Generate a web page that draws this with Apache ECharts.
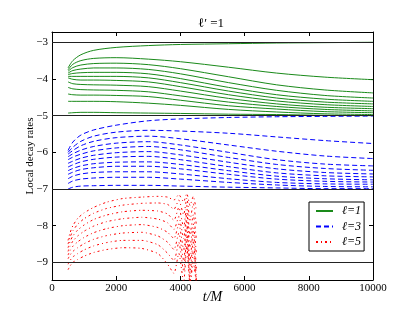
<!DOCTYPE html>
<html>
<head>
<meta charset="utf-8">
<script src="https://cdn.jsdelivr.net/npm/echarts@6/dist/echarts.min.js"></script>
<style>html,body{margin:0;padding:0;background:#fff;}#c{width:415px;height:312px;}</style>
</head>
<body>
<div id="c"></div>
<script>
// ---- data ----
const xTicks = [0, 2000, 4000, 6000, 8000, 10000];
const yTicks = [-9, -8, -7, -6, -5, -4, -3];
const refLines = [-3, -5, -7, -9];
const legendNames = ['ℓ=1', 'ℓ=3', 'ℓ=5'];

// ℓ=1 (solid green)
const tEll1 = [500, 650, 900, 1300, 2000, 3000, 4000, 5500, 7000, 8500, 10000];
const ell1Rates = [
  [-3.70, -3.50, -3.34, -3.22, -3.14, -3.09, -3.06, -3.04, -3.02, -3.01, -3.00],
  [-3.75, -3.60, -3.50, -3.44, -3.42, -3.46, -3.53, -3.68, -3.84, -3.95, -4.02],
  [-3.79, -3.69, -3.62, -3.58, -3.57, -3.61, -3.72, -3.94, -4.16, -4.30, -4.38],
  [-3.84, -3.77, -3.73, -3.70, -3.70, -3.74, -3.86, -4.10, -4.31, -4.45, -4.52],
  [-3.88, -3.85, -3.83, -3.82, -3.82, -3.86, -3.99, -4.23, -4.43, -4.55, -4.61],
  [-3.93, -3.93, -3.93, -3.93, -3.93, -3.97, -4.10, -4.33, -4.52, -4.63, -4.68],
  [-3.97, -4.01, -4.03, -4.03, -4.04, -4.08, -4.21, -4.43, -4.60, -4.70, -4.75],
  [-4.08, -4.13, -4.15, -4.16, -4.17, -4.21, -4.33, -4.53, -4.68, -4.77, -4.81],
  [-4.23, -4.27, -4.29, -4.30, -4.31, -4.35, -4.46, -4.63, -4.75, -4.83, -4.87],
  [-4.41, -4.43, -4.44, -4.44, -4.45, -4.48, -4.58, -4.73, -4.82, -4.89, -4.92],
  [-4.61, -4.61, -4.61, -4.61, -4.62, -4.66, -4.72, -4.83, -4.90, -4.95, -4.97],
  [-4.93, -4.92, -4.91, -4.91, -4.92, -4.93, -4.94, -4.96, -4.97, -4.99, -5.00]
];

// ℓ=3 (dashed blue)
const tEll3 = [500, 650, 900, 1300, 2000, 3000, 4000, 5500, 7000, 8500, 10000];
const ell3Rates = [
  [-5.95, -5.72, -5.53, -5.39, -5.26, -5.14, -5.09, -5.05, -5.03, -5.02, -5.01],
  [-6.00, -5.86, -5.70, -5.56, -5.45, -5.40, -5.42, -5.48, -5.58, -5.68, -5.76],
  [-6.05, -5.95, -5.82, -5.70, -5.60, -5.56, -5.63, -5.80, -5.97, -6.10, -6.17],
  [-6.12, -6.04, -5.94, -5.84, -5.75, -5.71, -5.80, -6.00, -6.20, -6.32, -6.37],
  [-6.20, -6.13, -6.05, -5.96, -5.88, -5.84, -5.93, -6.14, -6.33, -6.44, -6.49],
  [-6.30, -6.24, -6.16, -6.08, -6.01, -5.98, -6.07, -6.27, -6.45, -6.55, -6.59],
  [-6.40, -6.34, -6.26, -6.19, -6.13, -6.11, -6.20, -6.39, -6.56, -6.64, -6.67],
  [-6.50, -6.44, -6.37, -6.31, -6.27, -6.26, -6.33, -6.50, -6.65, -6.72, -6.75],
  [-6.60, -6.54, -6.47, -6.42, -6.38, -6.38, -6.45, -6.60, -6.73, -6.79, -6.81],
  [-6.72, -6.65, -6.59, -6.55, -6.53, -6.53, -6.59, -6.72, -6.82, -6.86, -6.87],
  [-6.85, -6.78, -6.73, -6.70, -6.68, -6.68, -6.73, -6.82, -6.89, -6.93, -6.94],
  [-7.00, -6.95, -6.92, -6.91, -6.90, -6.90, -6.92, -6.95, -6.97, -6.99, -6.99]
];

// ℓ=5 (dash-dot red)
const tEll5 = [500, 560, 650, 800, 1000, 1300, 1700, 2200, 2800, 3300, 3600, 3800, 3950, 4100, 4200, 4300, 4400, 4500];
const ell5Rates = [
  [-8.40, -8.20, -8.00, -7.80, -7.65, -7.50, -7.36, -7.26, -7.22, -7.20, -7.22, -7.30, -7.15, -7.35, -7.12, -7.45, -7.20, -7.60],
  [-8.50, -8.32, -8.14, -7.96, -7.81, -7.66, -7.53, -7.44, -7.39, -7.38, -7.42, -7.55, -7.30, -7.70, -7.25, -7.85, -7.40, -8.00],
  [-8.60, -8.44, -8.28, -8.12, -7.98, -7.83, -7.71, -7.62, -7.58, -7.60, -7.68, -7.85, -7.50, -8.05, -7.45, -8.25, -7.70, -8.40],
  [-8.70, -8.56, -8.42, -8.28, -8.15, -8.01, -7.89, -7.81, -7.77, -7.82, -7.92, -8.10, -7.75, -8.35, -7.65, -8.60, -7.95, -8.80],
  [-8.80, -8.68, -8.56, -8.44, -8.32, -8.19, -8.08, -8.00, -7.97, -8.05, -8.18, -8.35, -7.95, -8.65, -7.85, -8.95, -8.15, -9.20],
  [-8.90, -8.80, -8.70, -8.60, -8.49, -8.37, -8.27, -8.20, -8.18, -8.28, -8.45, -8.65, -8.20, -8.95, -8.05, -9.30, -8.40, -9.50],
  [-9.05, -8.95, -8.85, -8.76, -8.66, -8.55, -8.46, -8.40, -8.40, -8.52, -8.75, -8.95, -8.45, -9.25, -8.30, -9.55, -8.70, -9.55],
  [-9.20, -9.10, -9.00, -8.92, -8.83, -8.73, -8.65, -8.60, -8.62, -8.76, -9.05, -9.30, -8.75, -9.55, -8.55, -9.60, -9.00, -9.60]
];

// ---- chart ----
const FONT = '"Liberation Serif", "DejaVu Serif", serif';
const chart = echarts.init(document.getElementById('c'), null, {renderer: 'canvas'});

function pairs(t, v) { return t.map((x, i) => [x, v[i]]); }

const series = [];
ell1Rates.forEach(v => series.push({
  name: legendNames[0], type: 'line', data: pairs(tEll1, v), symbol: 'none', smooth: 0.3,
  lineStyle: {color: '#1a8a1a', width: 1, type: 'solid'}, itemStyle: {color: '#1a8a1a'}, silent: true, z: 3
}));
ell3Rates.forEach(v => series.push({
  name: legendNames[1], type: 'line', data: pairs(tEll3, v), symbol: 'none', smooth: 0.3,
  lineStyle: {color: '#0000ff', width: 1, type: [5, 3]}, itemStyle: {color: '#0000ff'}, silent: true, z: 3
}));
ell5Rates.forEach(v => series.push({
  name: legendNames[2], type: 'line', data: pairs(tEll5, v), symbol: 'none', smooth: 0.2,
  lineStyle: {color: '#ff0000', width: 1, type: [2, 3, 1, 3]}, itemStyle: {color: '#ff0000'}, silent: true, z: 3
}));
// reference horizontal lines
series.push({
  name: 'ref', type: 'line', data: [], silent: true,
  markLine: {
    silent: true, symbol: 'none', label: {show: false}, animation: false,
    lineStyle: {color: '#222', width: 1, type: 'solid'},
    data: refLines.map(y => ({yAxis: y}))
  }
});

const tickStyle = {show: true, inside: true, length: 4, lineStyle: {color: '#000', width: 1}};
const lineStyle = {show: true, onZero: false, lineStyle: {color: '#000', width: 1}};

chart.setOption({
  animation: false,
  backgroundColor: '#fff',
  grid: {left: 52, right: 42, top: 32, bottom: 32, containLabel: false},
  graphic: [{
    type: 'text', x: 211, y: 24,
    style: {text: 'ℓ′ =1', font: '13px ' + FONT, fill: '#000', textAlign: 'center', textVerticalAlign: 'middle'}
  }],
  legend: {
    data: legendNames, orient: 'vertical', left: 309, top: 202,
    backgroundColor: '#fff', borderColor: '#000', borderWidth: 1, borderRadius: 0,
    padding: [3, 3, 3, 6], itemWidth: 17, itemHeight: 12, itemGap: 3.5,
    itemStyle: {opacity: 0},
    textStyle: {fontFamily: FONT, fontStyle: 'italic', fontSize: 12, color: '#000', padding: [0, 0, 0, 4]}
  },
  xAxis: [{
    type: 'value', min: 0, max: 10000, interval: 2000, position: 'bottom',
    axisLine: lineStyle, axisTick: tickStyle, splitLine: {show: false},
    axisLabel: {color: '#000', fontFamily: FONT, fontSize: 11, margin: 3, formatter: v => String(v)},
    name: 't/M', nameLocation: 'middle', nameGap: 10, nameMoveOverlap: false,
    nameTextStyle: {fontFamily: FONT, fontStyle: 'italic', fontSize: 14, color: '#000', verticalAlign: 'top'}
  }, {
    type: 'value', min: 0, max: 10000, interval: 2000, position: 'top',
    axisLine: lineStyle, axisTick: tickStyle, axisLabel: {show: false}, splitLine: {show: false}
  }],
  yAxis: [{
    type: 'value', min: -9.48, max: -2.72, position: 'left',
    axisLine: lineStyle, splitLine: {show: false},
    axisTick: Object.assign({}, tickStyle, {customValues: yTicks}),
    axisLabel: {customValues: yTicks, color: '#000', fontFamily: FONT, fontSize: 11, margin: 4,
      formatter: v => (v < 0 ? '\u2212' + Math.abs(v) : String(v))},
    name: 'Local decay rates', nameLocation: 'middle', nameGap: 16, nameRotate: 90, nameMoveOverlap: false,
    nameTextStyle: {fontFamily: FONT, fontSize: 11, color: '#000'}
  }, {
    type: 'value', min: -9.48, max: -2.72, position: 'right',
    axisLine: lineStyle, splitLine: {show: false},
    axisTick: Object.assign({}, tickStyle, {customValues: yTicks}),
    axisLabel: {show: false}
  }],
  series: series
});
</script>
</body>
</html>
